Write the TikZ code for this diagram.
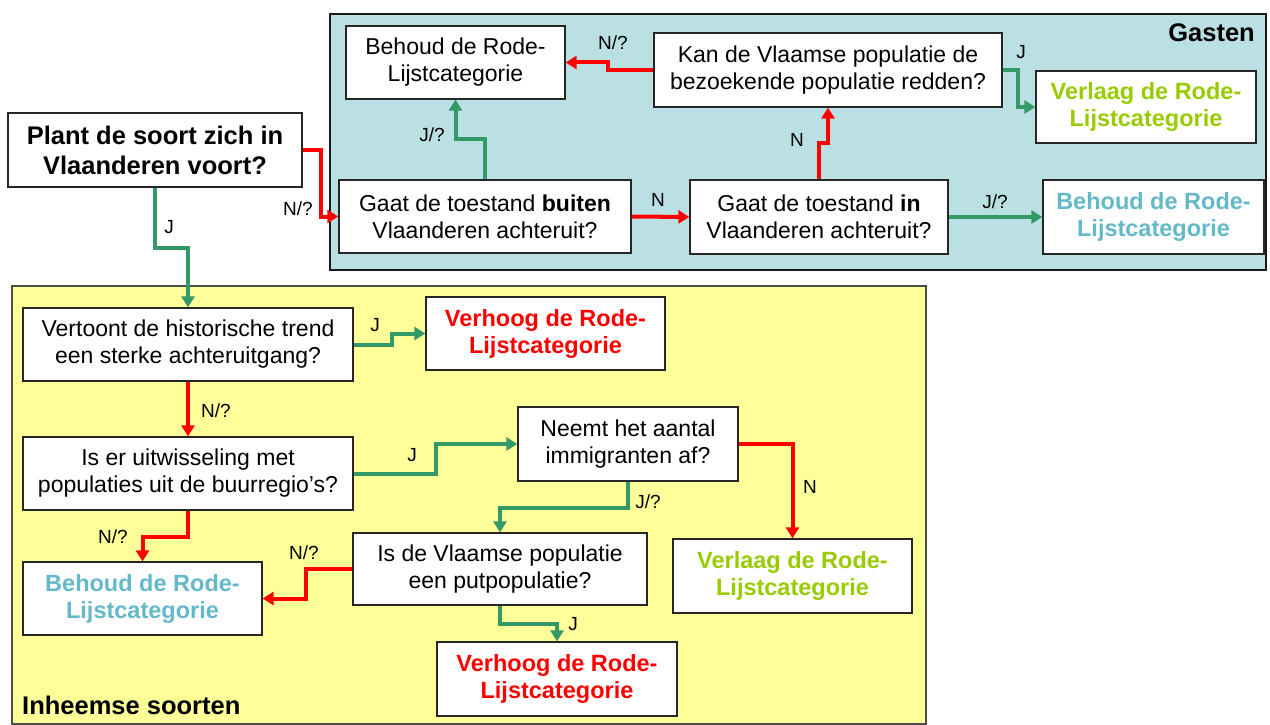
\documentclass[tikz,border=0pt]{standalone}
\usepackage{fontspec}
\setmainfont{Liberation Sans}
\usetikzlibrary{arrows.meta}
\definecolor{tealbg}{RGB}{187,224,227}
\definecolor{yelbg}{RGB}{255,255,153}
\definecolor{cred}{RGB}{255,0,0}
\definecolor{cgreen}{RGB}{51,153,102}
\definecolor{tlime}{RGB}{153,204,0}
\definecolor{tteal}{RGB}{100,185,200}
\tikzset{
  box/.style={draw=black!85, line width=1.3pt, fill=white, inner sep=0pt, align=center,
    font=\fontsize{23}{27}\selectfont},
  bigbox/.style={box, font=\fontsize{25.5}{30}\selectfont\bfseries},
  outbox/.style={box, font=\fontsize{23.5}{27}\selectfont\bfseries},
  lbl/.style={inner sep=0pt, font=\fontsize{19}{22}\selectfont},
  title/.style={inner sep=0pt, font=\fontsize{25.5}{30}\selectfont\bfseries},
  conn/.style={line width=4pt, -{Triangle[length=11pt,width=13pt]}},
  yes/.style={conn, draw=cgreen},
  no/.style={conn, draw=cred},
}
\begin{document}
\begin{tikzpicture}[x=1pt,y=-1pt]
\useasboundingbox (0,0) rectangle (1270,725);
% regions
\draw[fill=tealbg, draw=black!90, line width=2pt] (330,14) rectangle (1266,270);
\draw[fill=yelbg, draw=black!70, line width=2pt] (12,286) rectangle (926,724);
\node[title, anchor=east] (gasten) at (1255,33) {Gasten};
\node[title, anchor=west] (inheems) at (22,705) {Inheemse soorten};
% nodes
\node[bigbox, minimum width=294pt, minimum height=74pt] (plant) at (155,150) {Plant de soort zich in\\Vlaanderen voort?};
\node[box, minimum width=292pt, minimum height=73pt] (buiten) at (485,216.5) {Gaat de toestand \textbf{buiten}\\Vlaanderen achteruit?};
\node[box, minimum width=258pt, minimum height=74pt] (inV) at (819,217) {Gaat de toestand \textbf{in}\\Vlaanderen achteruit?};
\node[outbox, text=tteal, minimum width=221pt, minimum height=74pt] (behT) at (1153.5,217) {Behoud de Rode-\\Lijstcategorie};
\node[box, minimum width=219pt, minimum height=73pt] (behG) at (455.5,62.5) {Behoud de Rode-\\Lijstcategorie};
\node[box, minimum width=348pt, minimum height=74pt] (kan) at (828,70) {Kan de Vlaamse populatie de\\bezoekende populatie redden?};
\node[outbox, text=tlime, minimum width=220pt, minimum height=72pt] (verlG) at (1146,107) {Verlaag de Rode-\\Lijstcategorie};
\node[box, minimum width=330pt, minimum height=73pt] (vert) at (188,344.5) {Vertoont de historische trend\\een sterke achteruitgang?};
\node[outbox, text=cred, minimum width=239pt, minimum height=73pt] (verh1) at (545.5,333.5) {Verhoog de Rode-\\Lijstcategorie};
\node[box, minimum width=330pt, minimum height=73pt] (iser) at (188,473.5) {Is er uitwisseling met\\populaties uit de buurregio’s?};
\node[box, minimum width=220pt, minimum height=74pt] (neemt) at (628,444) {Neemt het aantal\\immigranten af?};
\node[box, minimum width=294pt, minimum height=72pt] (isde) at (500,569) {Is de Vlaamse populatie\\een putpopulatie?};
\node[outbox, text=tlime, minimum width=239pt, minimum height=74pt] (verl2) at (792.5,576) {Verlaag de Rode-\\Lijstcategorie};
\node[outbox, text=tteal, minimum width=239pt, minimum height=73pt] (beh2) at (142.5,598.5) {Behoud de Rode-\\Lijstcategorie};
\node[outbox, text=cred, minimum width=240pt, minimum height=74pt] (verh2) at (557,679) {Verhoog de Rode-\\Lijstcategorie};
% connectors
\draw[no] (plant.east) -- ++(18,0) |- (buiten.west);
\draw[yes] (plant.south) -- ++(0,60) -| (vert.north);
\draw[yes] (buiten.north) -- ++(0,-40) -| (behG.south);
\draw[no] (kan.west) -- ++(-45,0) |- (behG.east);
\draw[no] (buiten.east) -- (inV.west);
\draw[no] (inV.north) -- ++(0,-36) -| (kan.south);
\draw[yes] (kan.east) -- ++(15,0) |- (verlG.west);
\draw[yes] (inV.east) -- (behT.west);
\draw[yes] (vert.east) -- ++(38,0) |- (verh1.west);
\draw[no] (vert.south) -- (iser.north);
\draw[yes] (iser.east) -- ++(82,0) |- (neemt.west);
\draw[no] (iser.south) -- ++(0,26) -| (beh2.north);
\draw[no] (isde.west) -- ++(-46,0) |- (beh2.east);
\draw[no] (neemt.east) -| (verl2.north);
\draw[yes] (neemt.south) -- ++(0,26) -| (isde.north);
\draw[yes] (isde.south) -- ++(0,18) -| (verh2.north);
% labels
\node[lbl] (l1) at (298,209) {N/?};
\node[lbl] (l2) at (169,227) {J};
\node[lbl] (l3) at (432,135) {J/?};
\node[lbl] (l4) at (613,43) {N/?};
\node[lbl] (l5) at (658,200) {N};
\node[lbl] (l6) at (797,140) {N};
\node[lbl] (l7) at (1021,52) {J};
\node[lbl] (l8) at (995,202) {J/?};
\node[lbl] (l9) at (375,325) {J};
\node[lbl] (l10) at (216,411) {N/?};
\node[lbl] (l11) at (412,455) {J};
\node[lbl] (l12) at (113,537) {N/?};
\node[lbl] (l13) at (304,553) {N/?};
\node[lbl] (l14) at (810,487) {N};
\node[lbl] (l15) at (648,502) {J/?};
\node[lbl] (l16) at (573,624) {J};
\end{tikzpicture}
\end{document}
